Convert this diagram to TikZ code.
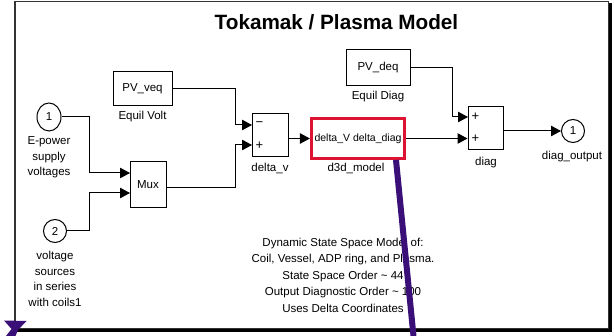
\documentclass[tikz,border=0pt]{standalone}
\usepackage{fontspec}
\setmainfont{Liberation Sans}
\usetikzlibrary{arrows.meta,shapes.geometric}
\definecolor{ppl}{RGB}{58,16,120}
\definecolor{redbox}{RGB}{220,20,50}
\begin{document}
\begin{tikzpicture}[x=1pt,y=-1pt,
  lbl/.style={inner sep=0pt,align=center,font=\fontsize{11.5}{15.5}\selectfont},
  blk/.style={draw,line width=1pt,inner sep=0pt,font=\fontsize{11.5}{14}\selectfont},
  port/.style={draw,line width=1pt,circle,minimum size=23pt,inner sep=0pt,font=\fontsize{11.5}{14}\selectfont},
  sgn/.style={inner sep=0pt,font=\fontsize{13}{14}\selectfont},
  sig/.style={line width=1pt,-{Triangle[length=10pt,width=10.5pt]}},
  wire/.style={line width=1pt}]
\useasboundingbox (0,0) rectangle (614,336);
% frame
\draw[line width=1.3pt,black!80] (15,1.5) rectangle (608.5,328.5);
\draw[line width=3pt] (17,330.5) -- (610.5,330.5) -- (610.5,3);
% title
\node[inner sep=0pt,font=\fontsize{20.7}{24}\bfseries\selectfont] (title) at (336.5,22) {Tokamak / Plasma Model};
% inports
\node[draw,line width=1pt,ellipse,minimum width=24pt,minimum height=28pt,inner sep=0pt,font=\fontsize{11.5}{14}\selectfont] (in1) at (49,117) {1};
\node[lbl] (in1lbl) at (49,157.5) {E-power\\supply\\voltages};
\node[port] (in2) at (55,231) {2};
\node[lbl] (in2lbl) at (55,279) {voltage\\sources\\in series\\with coils1};
% mux
\node[blk,minimum width=36pt,minimum height=46pt] (mux) at (148,185) {Mux};
% PV_veq
\node[blk,minimum width=59pt,minimum height=34pt] (veq) at (142.5,89) {PV\_veq};
\node[lbl] (veqlbl) at (142.5,117) {Equil Volt};
% sum1
\node[blk,minimum width=36pt,minimum height=43pt] (sum1) at (270,135) {};
\node[sgn] (s1m) at (259.5,124.5) {−};
\node[sgn] (s1p) at (259.5,146) {+};
\node[lbl] (sum1lbl) at (270,168) {delta\_v};
% d3d model
\node[draw=redbox,line width=3.2pt,minimum width=93pt,minimum height=40pt,inner sep=0pt,font=\fontsize{10.5}{12}\selectfont] (d3d) at (358,138.5) {delta\_V delta\_diag};
\node[lbl] (d3dlbl) at (356,168) {d3d\_model};
% PV_deq
\node[blk,minimum width=64pt,minimum height=36pt] (deq) at (378,68) {PV\_deq};
\node[lbl] (deqlbl) at (378,97) {Equil Diag};
% sum2
\node[blk,minimum width=35pt,minimum height=43pt] (sum2) at (485.5,128.5) {};
\node[sgn] (s2a) at (475.5,117) {+};
\node[sgn] (s2b) at (475.5,138.5) {+};
\node[lbl] (sum2lbl) at (486,162.5) {diag};
% outport
\node[port] (out) at (573,131) {1};
\node[lbl] (outlbl) at (572,157) {diag\_output};
% description
\node[inner sep=0pt,align=center,font=\fontsize{11.5}{16.5}\selectfont] (desc) at (343,275)
 {Dynamic State Space Model of:\\Coil, Vessel, ADP ring, and Plasma.\\State Space Order \textasciitilde{} 44\\Output Diagnostic Order \textasciitilde{} 100\\Uses Delta Coordinates};
% input coordinates
\coordinate (muxA) at (130,173);
\coordinate (muxB) at (130,193);
\coordinate (s1in1) at (252,125);
\coordinate (s1in2) at (252,145);
\coordinate (s2in1) at (468,117);
% connectors
\draw[sig] (in1.east) -- (89,117) |- (muxA);
\draw[sig] (in2.east) -- (89,231) |- (muxB);
\draw[sig] (mux.east |- 0,188) -- (235,188) |- (s1in2);
\draw[sig] (veq.east) -- (235,89) |- (s1in1);
\draw[sig] (sum1.east |- d3d.west) -- (d3d.west);
\draw[sig] (d3d.east) -- (sum2.west |- d3d.east);
\draw[sig] (deq.east) -- (452,68) |- (s2in1);
\draw[sig] (sum2.east |- out.west) -- (out.west);
% purple annotation stroke
\coordinate (pA) at (396,160);
\coordinate (pB) at (413.5,336);
\draw[ppl,line width=6pt] (pA) -- (pB);
\fill[ppl] (4,320.5) -- (26.5,321) -- (18,330) -- (15.5,336) -- (6,336) -- (11.5,329) -- cycle;
\end{tikzpicture}
\end{document}
